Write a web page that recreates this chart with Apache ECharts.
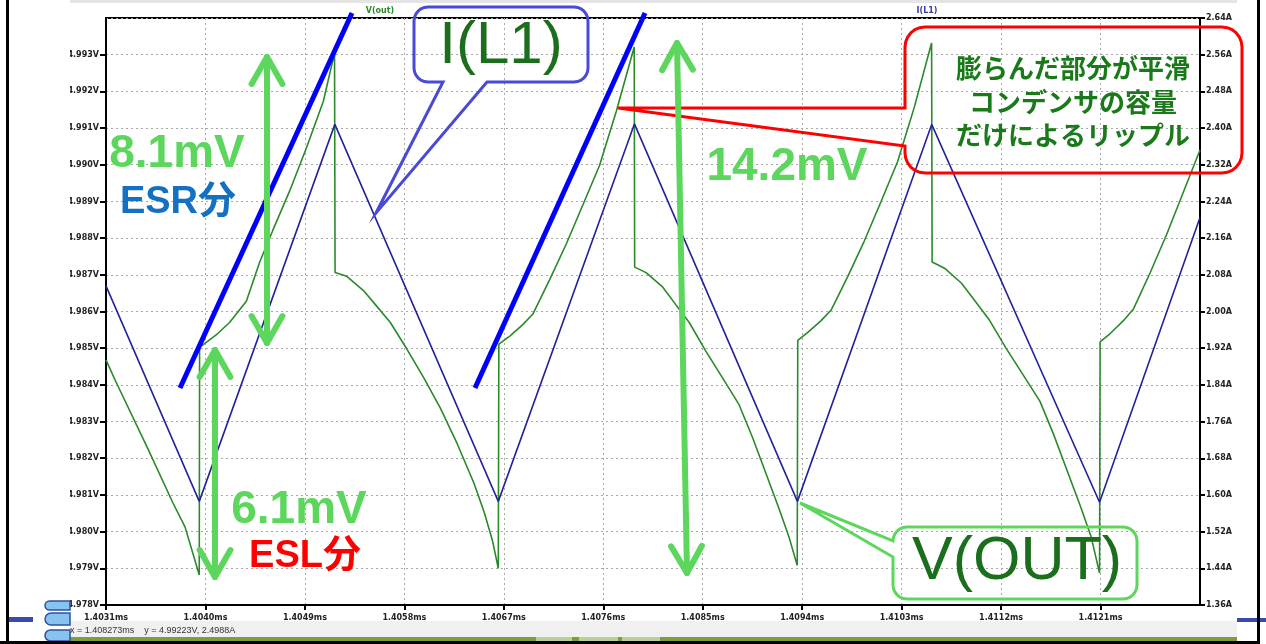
<!DOCTYPE html>
<html>
<head>
<meta charset="utf-8">
<script src="https://cdn.jsdelivr.net/npm/echarts@6/dist/echarts.min.js"></script>
<style>
  html, body { margin: 0; padding: 0; background: #fff; }
  #chart { width: 1266px; height: 644px; }
</style>
</head>
<body>
<div id="chart"></div>
<script>
// LTspice capture: V(out) ripple vs I(L1), with slide annotations on top

// ---- data ----
const timeV = [
  1.403100, 1.403181, 1.403471, 1.403706, 1.403815, 1.403944,
  1.403947, 1.403961, 1.404097, 1.404218, 1.404370, 1.404491, 1.404612, 1.404764, 1.404915, 1.405067, 1.405168,
  1.405173, 1.405279, 1.405430, 1.405551, 1.405673, 1.405824, 1.405976, 1.406127, 1.406279, 1.406430, 1.406521, 1.406597, 1.406650,
  1.406655, 1.406754, 1.406874, 1.406965, 1.407115, 1.407265, 1.407416, 1.407566, 1.407716, 1.407880,
  1.407884, 1.407987, 1.408137, 1.408258, 1.408378, 1.408528, 1.408679, 1.408829, 1.408949, 1.409069, 1.409190, 1.409280, 1.409355,
  1.409360, 1.409451, 1.409571, 1.409662, 1.409812, 1.409962, 1.410113, 1.410263, 1.410413, 1.410571,
  1.410576, 1.410688, 1.410842, 1.410966, 1.411089, 1.411243, 1.411398, 1.411552, 1.411675, 1.411798, 1.411922, 1.412014, 1.412091,
  1.412096, 1.412187, 1.412307, 1.412398, 1.412548, 1.412698, 1.412849, 1.413000
];
const vOut = [
  4.98468, 4.98414, 4.98231, 4.98078, 4.98013, 4.97882,
  4.98502, 4.98506, 4.98536, 4.98570, 4.98628, 4.98735, 4.98823, 4.98930, 4.99047, 4.99173, 4.99305,
  4.98706, 4.98696, 4.98657, 4.98614, 4.98570, 4.98497, 4.98419, 4.98336, 4.98239, 4.98132, 4.98054, 4.97976, 4.97900,
  4.98511, 4.98533, 4.98565, 4.98594, 4.98687, 4.98784, 4.98891, 4.98998, 4.99144, 4.99321,
  4.98721, 4.98706, 4.98667, 4.98618, 4.98570, 4.98492, 4.98419, 4.98346, 4.98258, 4.98161, 4.98063, 4.97986, 4.97908,
  4.98521, 4.98543, 4.98575, 4.98604, 4.98695, 4.98792, 4.98899, 4.99008, 4.99155, 4.99332,
  4.98735, 4.98718, 4.98677, 4.98628, 4.98579, 4.98501, 4.98428, 4.98355, 4.98265, 4.98166, 4.98066, 4.97987, 4.97887,
  4.98517, 4.98540, 4.98575, 4.98607, 4.98705, 4.98810, 4.98925, 4.99040
];
const timeI = [1.4031, 1.403944, 1.405171, 1.406650, 1.407882, 1.409357, 1.410572, 1.412091, 1.4130];
const iL1   = [2.056, 1.586, 2.408, 1.586, 2.409, 1.586, 2.408, 1.584, 2.205];

const xRange = [1.4031, 1.4130, 0.0009];
const vRange = [4.978, 4.994, 0.001];
const iRange = [1.36, 2.64, 0.08];
const statusText = 'x = 1.408273ms    y = 4.99223V, 2.4988A';

// ---- colours ----
const C = {
  trace: '#2a8a2a',
  current: '#22229c',
  arrow: '#5cd65c',
  darkGreen: '#1b6e1b',
  pure: '#0000ff',
  red: '#ff0000',
  esr: '#1470c0',
  callBlue: '#4a4ad6'
};

const chart = echarts.init(document.getElementById('chart'));

const axisFont = { fontFamily: 'DejaVu Sans', fontWeight: 'bold', fontSize: 8, color: '#222' };
const dashed = { show: true, lineStyle: { color: '#a8a8a8', type: [2, 3], width: 1 } };

// ---- annotation helpers (pixel layout of the slide overlay) ----
function head(tx, ty, fx, fy) {
  const a = Math.atan2(ty - fy, tx - fx), L = 31, s = 0.52;
  return [[tx - L * Math.cos(a - s), ty - L * Math.sin(a - s)], [tx, ty],
          [tx - L * Math.cos(a + s), ty - L * Math.sin(a + s)]];
}
function dblArrow(x1, y1, x2, y2) {
  const st = { stroke: C.arrow, lineWidth: 6, lineCap: 'round', lineJoin: 'round', fill: 'none' };
  return [
    { type: 'line', z: 100, shape: { x1: x1, y1: y1, x2: x2, y2: y2 }, style: st },
    { type: 'polyline', z: 100, shape: { points: head(x1, y1, x2, y2) }, style: st },
    { type: 'polyline', z: 100, shape: { points: head(x2, y2, x1, y1) }, style: st }
  ];
}
function arcPts(cx, cy, r, a0, a1) {
  const out = [];
  for (let k = 0; k <= 6; k++) {
    const a = (a0 + (a1 - a0) * k / 6) * Math.PI / 180;
    out.push([cx + r * Math.cos(a), cy + r * Math.sin(a)]);
  }
  return out;
}
function callout(x, y, w, h, r, tail) {
  let p = [];
  p = p.concat(arcPts(x + w - r, y + r, r, -90, 0));
  p = p.concat(arcPts(x + w - r, y + h - r, r, 0, 90));
  if (tail.side === 'bottom') p.push([tail.b, y + h], tail.tip, [tail.a, y + h]);
  p = p.concat(arcPts(x + r, y + h - r, r, 90, 180));
  if (tail.side === 'left') p.push([x, tail.b], tail.tip, [x, tail.a]);
  p = p.concat(arcPts(x + r, y + r, r, 180, 270));
  return p;
}
function txt(x, y, s, size, color, weight, family) {
  return {
    type: 'text', z: 110, x: x, y: y,
    style: {
      text: s, fill: color, fontSize: size, fontWeight: weight || 'bold',
      fontFamily: family || 'Liberation Sans, Noto Sans CJK JP',
      align: 'center', verticalAlign: 'middle'
    }
  };
}

const logoStyle = { fill: '#86c3ee', stroke: '#3050a0', lineWidth: 1.5 };

const graphics = [
  // slide margin left of the LTspice capture (clips the axis labels)
  { type: 'rect', z: 90, shape: { x: 9, y: 0, width: 61, height: 641 }, style: { fill: '#fff' } },
  { type: 'rect', z: 90, shape: { x: 1237, y: 0, width: 29, height: 641 }, style: { fill: '#fff' } },
  { type: 'rect', z: 90, shape: { x: 70, y: 0, width: 1167, height: 3 }, style: { fill: '#e4e4e4' } },
  // status bar
  { type: 'rect', z: 90, shape: { x: 70, y: 621, width: 1167, height: 17 }, style: { fill: '#f0f0f0' } },
  { type: 'rect', z: 91, shape: { x: 70, y: 637, width: 1167, height: 4 }, style: { fill: '#7a9f3c' } },
  { type: 'rect', z: 92, shape: { x: 536, y: 637, width: 36, height: 4 }, style: { fill: '#bccf98' } },
  { type: 'rect', z: 92, shape: { x: 579, y: 637, width: 39, height: 4 }, style: { fill: '#bccf98' } },
  { type: 'rect', z: 92, shape: { x: 622, y: 637, width: 38, height: 4 }, style: { fill: '#bccf98' } },
  { type: 'text', z: 95, x: 70, y: 631,
    style: { text: statusText, fill: '#333', fontSize: 9, fontFamily: 'Liberation Sans', verticalAlign: 'middle' } },
  // slide decorations: logo (cut by the capture) and rule lines
  { type: 'rect', z: 93, shape: { x: 45, y: 601, width: 25, height: 9, r: [5, 0, 0, 5] }, style: logoStyle },
  { type: 'rect', z: 93, shape: { x: 45, y: 613, width: 25, height: 12, r: [6, 0, 0, 6] }, style: logoStyle },
  { type: 'rect', z: 93, shape: { x: 45, y: 630, width: 25, height: 11, r: [6, 0, 0, 6] }, style: logoStyle },
  { type: 'rect', z: 95, shape: { x: 8, y: 617, width: 25, height: 5 }, style: { fill: '#3a4aa8' } },
  { type: 'rect', z: 95, shape: { x: 1237, y: 618, width: 29, height: 4 }, style: { fill: '#3a4aa8' } },
  // frame of the slide
  { type: 'rect', z: 120, shape: { x: 6, y: 0, width: 3, height: 644 }, style: { fill: '#000' } },
  { type: 'rect', z: 120, shape: { x: 1257, y: 0, width: 3, height: 644 }, style: { fill: '#000' } },
  { type: 'rect', z: 120, shape: { x: 0, y: 641, width: 1260, height: 3 }, style: { fill: '#000' } },
  // trace names
  { type: 'text', z: 95, x: 380, y: 11, style: { text: 'V(out)', fill: C.trace, fontSize: 8, fontWeight: 'bold', fontFamily: 'DejaVu Sans', align: 'center', verticalAlign: 'middle' } },
  { type: 'text', z: 95, x: 927, y: 11, style: { text: 'I(L1)', fill: '#3a3aa6', fontSize: 8, fontWeight: 'bold', fontFamily: 'DejaVu Sans', align: 'center', verticalAlign: 'middle' } },
  // slope guides
  { type: 'line', z: 100, shape: { x1: 180, y1: 388, x2: 352, y2: 13 }, style: { stroke: C.pure, lineWidth: 5 } },
  { type: 'line', z: 100, shape: { x1: 475, y1: 388, x2: 645, y2: 13 }, style: { stroke: C.pure, lineWidth: 5 } },
  // callouts
  { type: 'polygon', z: 100, shape: { points: callout(414, 7, 174, 75, 14, { side: 'bottom', a: 443, b: 487, tip: [376, 213] }) },
    style: { stroke: C.callBlue, lineWidth: 3, fill: 'none' } },
  { type: 'polygon', z: 100, shape: { points: callout(905, 27, 337, 146, 20, { side: 'left', a: 108, b: 146, tip: [618, 108] }) },
    style: { stroke: C.red, lineWidth: 3, fill: 'none' } },
  { type: 'polygon', z: 100, shape: { points: callout(893, 527, 244, 72, 14, { side: 'left', a: 541, b: 557, tip: [800, 503] }) },
    style: { stroke: C.arrow, lineWidth: 3, fill: 'none' } },
  txt(501, 46, 'I(L1)', 60, C.darkGreen, 'normal'),
  txt(1017, 562, 'V(OUT)', 61, C.darkGreen, 'normal'),
  txt(1073, 68, '膨らんだ部分が平滑', 26, '#1a7a1a', 'bold', 'Noto Sans CJK JP'),
  txt(1073, 102, 'コンデンサの容量', 26, '#1a7a1a', 'bold', 'Noto Sans CJK JP'),
  txt(1073, 135, 'だけによるリップル', 26, '#1a7a1a', 'bold', 'Noto Sans CJK JP'),
  // measurement labels
  txt(177, 154, '8.1mV', 46, C.arrow),
  txt(178, 203, 'ESR分', 38, C.esr),
  txt(299, 510, '6.1mV', 46, C.arrow),
  txt(305, 557, 'ESL分', 38, C.red),
  txt(787, 167, '14.2mV', 46, C.arrow)
].concat(
  dblArrow(267, 57, 267, 343),
  dblArrow(215, 350, 215, 577),
  dblArrow(677, 43, 687, 573)
);

const option = {
  animation: false,
  backgroundColor: '#fff',
  grid: { left: 106, right: 66, top: 18, bottom: 39, show: true, borderColor: '#000', borderWidth: 2, backgroundColor: '#fff' },
  xAxis: {
    type: 'value', min: xRange[0], max: xRange[1], interval: xRange[2],
    axisLine: { show: true, onZero: false, lineStyle: { color: '#000', width: 2 } },
    axisTick: { show: true, length: 5, lineStyle: { color: '#000', width: 2 } },
    axisLabel: Object.assign({ margin: 9, showMaxLabel: false, formatter: v => v.toFixed(4) + 'ms' }, axisFont),
    splitLine: dashed
  },
  yAxis: [
    {
      type: 'value', position: 'left', min: vRange[0], max: vRange[1], interval: vRange[2],
      axisLine: { show: true, lineStyle: { color: '#000', width: 2 } },
      axisTick: { show: true, length: 6, lineStyle: { color: '#000', width: 2 } },
      axisLabel: Object.assign({ margin: 7, showMaxLabel: false, formatter: v => v.toFixed(3) + 'V' }, axisFont),
      splitLine: dashed
    },
    {
      type: 'value', position: 'right', min: iRange[0], max: iRange[1], interval: iRange[2],
      axisLine: { show: true, lineStyle: { color: '#000', width: 2 } },
      axisTick: { show: true, length: 5, lineStyle: { color: '#000', width: 2 } },
      axisLabel: Object.assign({ margin: 6, formatter: v => v.toFixed(2) + 'A' }, axisFont),
      splitLine: { show: false }
    }
  ],
  series: [
    {
      name: 'V(out)', type: 'line', yAxisIndex: 0, showSymbol: false, z: 3,
      lineStyle: { color: C.trace, width: 1.6 },
      data: timeV.map((t, i) => [t, vOut[i]])
    },
    {
      name: 'I(L1)', type: 'line', yAxisIndex: 1, showSymbol: false, z: 4,
      lineStyle: { color: C.current, width: 1.6 },
      data: timeI.map((t, i) => [t, iL1[i]])
    }
  ],
  graphic: { elements: graphics }
};

chart.setOption(option);
</script>
</body>
</html>
